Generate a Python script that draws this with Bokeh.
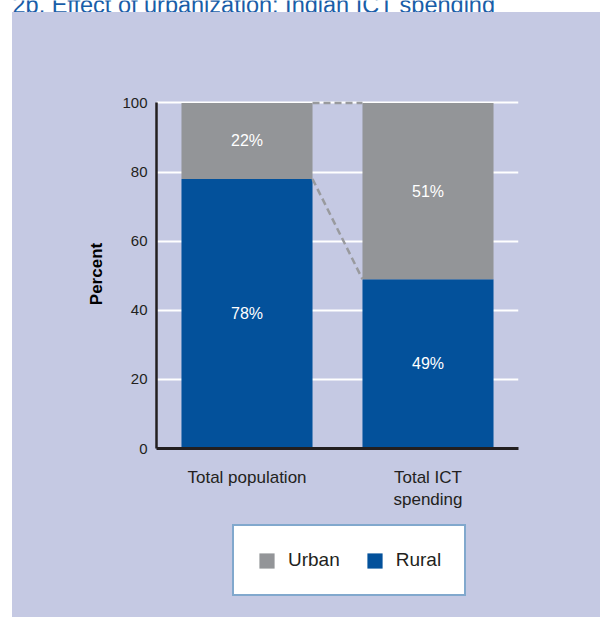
from bokeh.plotting import figure
from bokeh.models import (ColumnDataSource, Legend, LegendItem, Range1d, FactorRange,
                          Spacer, FixedTicker)
from bokeh.layouts import row, column
from bokeh.core.properties import value
from bokeh.embed import file_html
from bokeh.resources import INLINE

title_text = "2b. Effect of urbanization: Indian ICT spending"
categories = ["Total population", "Total ICT\nspending"]
rural = [78, 49]
urban = [22, 51]
y_ticks = [0, 20, 40, 60, 80, 100]
legend_labels = ["Urban", "Rural"]

BLUE = "#03519b"
GRAY = "#939598"
BG = "#c5c9e3"
DARK = "#231f20"
TITLE_BLUE = "#1a5ea8"
FONT = "Liberation Sans"


def bare(fig, bg):
    fig.grid.visible = False
    fig.outline_line_color = None
    fig.background_fill_color = bg
    fig.border_fill_color = bg


# --- clipped title strip (only the bottom of the title is visible) ---
t = figure(width=600, height=12, x_range=Range1d(0, 600), y_range=Range1d(0, 12),
           output_backend="svg", toolbar_location=None, min_border=0, title=None,
           x_axis_location=None, y_axis_location=None)
bare(t, "white")
t.text(x=[12], y=[8], text=[title_text], text_color=TITLE_BLUE,
       text_font=value(FONT), text_font_size="23.5px", text_baseline="alphabetic")

source = ColumnDataSource(dict(
    cats=categories,
    Rural=rural,
    Urban=urban,
    rural_mid=[r / 2 for r in rural],
    urban_mid=[r + u / 2 for r, u in zip(rural, urban)],
    rural_lbl=[f"{r}%" for r in rural],
    urban_lbl=[f"{u}%" for u in urban],
))

p = figure(width=588, height=505, x_range=FactorRange(*categories, range_padding=0),
           y_range=Range1d(0, 101), output_backend="svg", toolbar_location=None,
           title=None,
           min_border_left=144, min_border_right=82, min_border_top=87, min_border_bottom=69)
p.background_fill_color = BG
p.border_fill_color = BG
p.outline_line_color = None

rs = p.vbar_stack(["Rural", "Urban"], x="cats", width=0.724, color=[BLUE, GRAY],
                  line_color=None, source=source)

# dashed connector lines
p.segment(x0=[(categories[0], 0.362), (categories[0], 0.362)],
          y0=[100, rural[0]],
          x1=[(categories[1], -0.362), (categories[1], -0.362)],
          y1=[100, rural[1]],
          line_color="#999a9e", line_width=2.5, line_dash="7 4")

for ycol, lcol in (("urban_mid", "urban_lbl"), ("rural_mid", "rural_lbl")):
    p.text(x="cats", y=ycol, text=lcol, source=source, text_color="white",
           text_font=value(FONT), text_font_size="16px", text_align="center",
           text_baseline="middle")

p.xgrid.grid_line_color = None
p.ygrid.grid_line_color = "white"
p.ygrid.grid_line_width = 2
p.yaxis.ticker = FixedTicker(ticks=y_ticks)
p.yaxis.bounds = (0, 100)

for ax in (p.xaxis, p.yaxis):
    ax.axis_line_color = DARK
    ax.major_tick_line_color = None
    ax.minor_tick_line_color = None
    ax.major_label_text_font = FONT
    ax.major_label_text_color = DARK
p.xaxis.axis_line_width = 3
p.yaxis.axis_line_width = 2.5
p.yaxis.major_label_text_font_size = "15px"
p.yaxis.major_label_standoff = 3
p.xaxis.major_label_text_font_size = "17px"
p.xaxis.major_label_standoff = 13
p.yaxis.axis_label = "Percent"
p.yaxis.axis_label_text_font = FONT
p.yaxis.axis_label_text_font_style = "bold"
p.yaxis.axis_label_text_font_size = "17px"
p.yaxis.axis_label_text_color = "black"
p.yaxis.axis_label_standoff = 13

# --- legend strip (continues the panel below the chart) ---
lg = figure(width=588, height=100, x_range=FactorRange(*categories), y_range=Range1d(0, 100),
            output_backend="svg", toolbar_location=None, min_border=0, title=None,
            x_axis_location=None, y_axis_location=None)
bare(lg, BG)
keys = lg.vbar_stack(["Rural", "Urban"], x="cats", width=0.724, color=[BLUE, GRAY],
                     line_color=None, source=source)
for k in keys:
    k.visible = False
legend = Legend(items=[LegendItem(label=legend_labels[0], renderers=[keys[1]]),
                       LegendItem(label=legend_labels[1], renderers=[keys[0]])],
                orientation="horizontal", location=(220, 21),
                glyph_width=19, glyph_height=19, label_standoff=12, spacing=25,
                padding=23, label_text_font=FONT, label_text_font_size="19px",
                label_text_color=DARK, border_line_color=BLUE, border_line_width=2.5,
                background_fill_color="white", background_fill_alpha=1,
                inactive_fill_alpha=0)
lg.add_layout(legend, "center")

panel = column(row(p, Spacer(width=0)), row(lg, Spacer(width=0)),
               styles={"background-color": BG})
layout = column(t, row(Spacer(width=12), panel))
open("out.html", "w").write(file_html(layout, INLINE))
